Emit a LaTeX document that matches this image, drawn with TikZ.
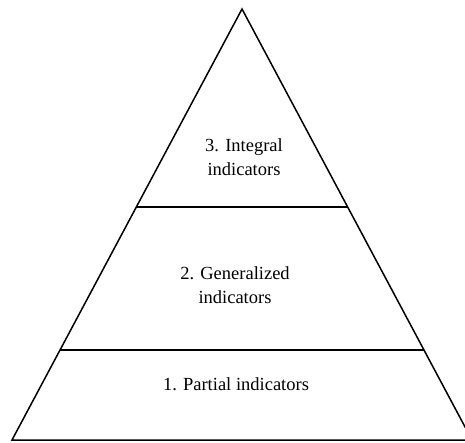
\documentclass[tikz,border=0pt]{standalone}
\usepackage{fontspec}
\setmainfont{Liberation Serif}
\usetikzlibrary{calc}

\begin{document}
\begin{tikzpicture}[
        x=1pt, y=-1pt,
        level/.style={align=center, font=\fontsize{18.5}{23.5}\selectfont},
        edge/.style={draw, line width=1.5pt}
    ]
        \useasboundingbox (0,0) rectangle (465,442);
        \clip (0,0) rectangle (465,442);

        \coordinate (top) at (242,9);
        \coordinate (left) at (12,440);
        \coordinate (right) at (472,440);
        \coordinate (upperL) at ($(top)!0.4594!(left)$);
        \coordinate (upperR) at ($(top)!0.4594!(right)$);
        \coordinate (lowerL) at ($(top)!0.7912!(left)$);
        \coordinate (lowerR) at ($(top)!0.7912!(right)$);

        \path [edge] (top) -- (left) -- (right) -- cycle;
        \path [edge] (upperL) -- (upperR);
        \path [edge] (lowerL) -- (lowerR);

        \node [level] (integral) at (244,157) {3. Integral\\indicators};
        \node [level] (generalized) at (235,285) {2. Generalized\\indicators};
        \node [level] (partial) at (236,384) {1. Partial indicators};
    \end{tikzpicture}
\end{document}
